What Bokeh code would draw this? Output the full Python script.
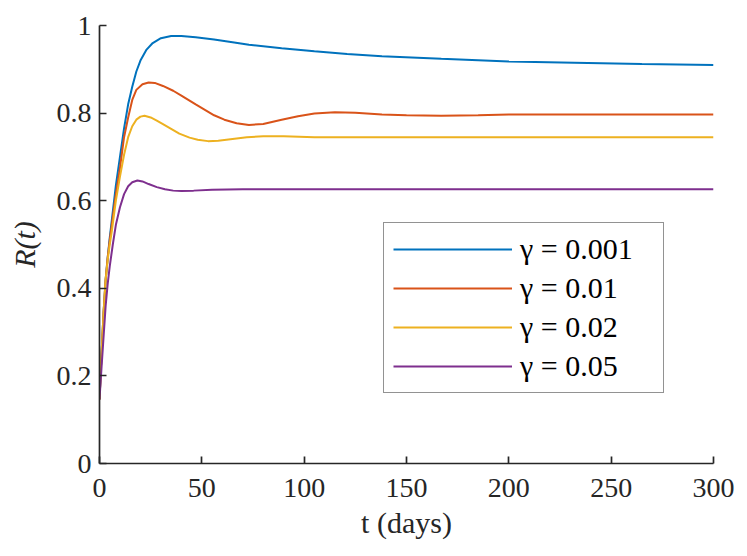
from bokeh.plotting import figure
from bokeh.models import Range1d, FixedTicker, NumeralTickFormatter, Legend, LegendItem
from bokeh.embed import file_html
from bokeh.resources import INLINE

# ---- data ----
t_g001 = [0, 1, 2, 3, 4, 5, 6, 7, 8, 10, 12, 14, 16, 18, 20, 23, 26, 30, 35, 40, 47, 56,
          65, 73, 89, 105, 121, 138, 167, 200, 232, 265, 300]
r_g001 = [0.146, 0.25, 0.345, 0.42, 0.47, 0.515, 0.555, 0.595, 0.635, 0.70, 0.765, 0.82,
          0.86, 0.895, 0.92, 0.945, 0.96, 0.971, 0.976, 0.976, 0.973, 0.968, 0.962, 0.956,
          0.948, 0.941, 0.935, 0.930, 0.924, 0.918, 0.915, 0.912, 0.910]

t_g01 = [0, 1, 2, 3, 4, 5, 6, 8, 10, 12, 14, 16, 18, 21, 24, 27, 31, 36, 40, 47, 56, 61,
         67, 73, 80, 89, 97, 105, 115, 125, 138, 150, 167, 185, 200, 300]
r_g01 = [0.146, 0.25, 0.345, 0.42, 0.47, 0.51, 0.545, 0.615, 0.675, 0.745, 0.79, 0.83,
         0.853, 0.866, 0.870, 0.869, 0.862, 0.851, 0.840, 0.820, 0.795, 0.785, 0.777,
         0.773, 0.775, 0.785, 0.793, 0.799, 0.802, 0.801, 0.797, 0.795, 0.794, 0.795,
         0.797, 0.797]

t_g02 = [0, 1, 2, 3, 4, 5, 6, 8, 10, 12, 14, 16, 18, 20, 22, 25, 28, 31, 35, 39, 44, 48,
         53, 58, 65, 72, 80, 90, 105, 130, 300]
r_g02 = [0.146, 0.25, 0.345, 0.42, 0.465, 0.50, 0.53, 0.60, 0.655, 0.705, 0.745, 0.77,
         0.785, 0.792, 0.794, 0.790, 0.783, 0.775, 0.764, 0.753, 0.744, 0.739, 0.736,
         0.737, 0.741, 0.745, 0.747, 0.747, 0.745, 0.745, 0.745]

t_g05 = [0, 1, 2, 3, 4, 5, 6.5, 8, 10, 12, 14, 16, 18.5, 21, 24, 28, 32, 36, 40, 46, 55,
         70, 300]
r_g05 = [0.146, 0.22, 0.29, 0.36, 0.41, 0.45, 0.50, 0.545, 0.585, 0.615, 0.633, 0.642,
         0.646, 0.644, 0.638, 0.631, 0.626, 0.623, 0.622, 0.623, 0.625, 0.626, 0.626]

series_labels = ["γ = 0.001", "γ = 0.01", "γ = 0.02", "γ = 0.05"]
x_ticks = [0, 50, 100, 150, 200, 250, 300]
y_ticks = [0, 0.2, 0.4, 0.6, 0.8, 1]

colors = ["#0072BD", "#D95319", "#EDB120", "#7E2F8E"]
FONT = "Liberation Serif"
AX = "#262626"

p = figure(width=745, height=554, output_backend="svg", toolbar_location=None,
           x_range=Range1d(0, 300), y_range=Range1d(0, 1),
           min_border_left=99, min_border_right=32, min_border_top=25,
           min_border_bottom=91)
p.outline_line_color = None
p.grid.visible = False
p.background_fill_color = "white"
p.border_fill_color = "white"

for ax in (p.xaxis[0], p.yaxis[0]):
    ax.axis_line_color = AX
    ax.axis_line_width = 1.7
    ax.major_tick_line_color = AX
    ax.major_tick_line_width = 1.7
    ax.major_tick_in = 7
    ax.major_tick_out = 0
    ax.minor_tick_line_color = None
    ax.major_label_text_font = FONT
    ax.major_label_text_font_size = "28px"
    ax.major_label_text_color = AX
    ax.axis_label_text_font = FONT
    ax.axis_label_text_font_size = "30px"
    ax.axis_label_text_color = AX

p.xaxis.major_label_standoff = 15
p.yaxis.major_label_standoff = 8
p.xaxis.ticker = FixedTicker(ticks=x_ticks)
p.yaxis.ticker = FixedTicker(ticks=y_ticks)
p.yaxis.formatter = NumeralTickFormatter(format="0.[0]")
p.xaxis.axis_label = "t (days)"
p.yaxis.axis_label = "R(t)"
p.yaxis.axis_label_text_font_style = "italic"
p.xaxis.axis_label_text_font_style = "normal"
p.xaxis.axis_label_standoff = 6
p.yaxis.axis_label_standoff = 13

data = [(t_g001, r_g001), (t_g01, r_g01), (t_g02, r_g02), (t_g05, r_g05)]
items = []
for (tt, rr), c, lab in zip(data, colors, series_labels):
    r = p.line(tt, rr, line_color=c, line_width=2)
    items.append(LegendItem(label=lab, renderers=[r]))

legend = Legend(items=items, location=(284, 70), margin=0, padding=9, spacing=5,
                glyph_width=119, glyph_height=30, label_height=30, label_width=134,
                label_standoff=8, label_text_font=FONT, label_text_font_size="30px",
                label_text_color="black", border_line_color=AX, border_line_width=1.7,
                background_fill_color="white", background_fill_alpha=1)
p.add_layout(legend, "center")

open("out.html", "w").write(file_html(p, INLINE))
